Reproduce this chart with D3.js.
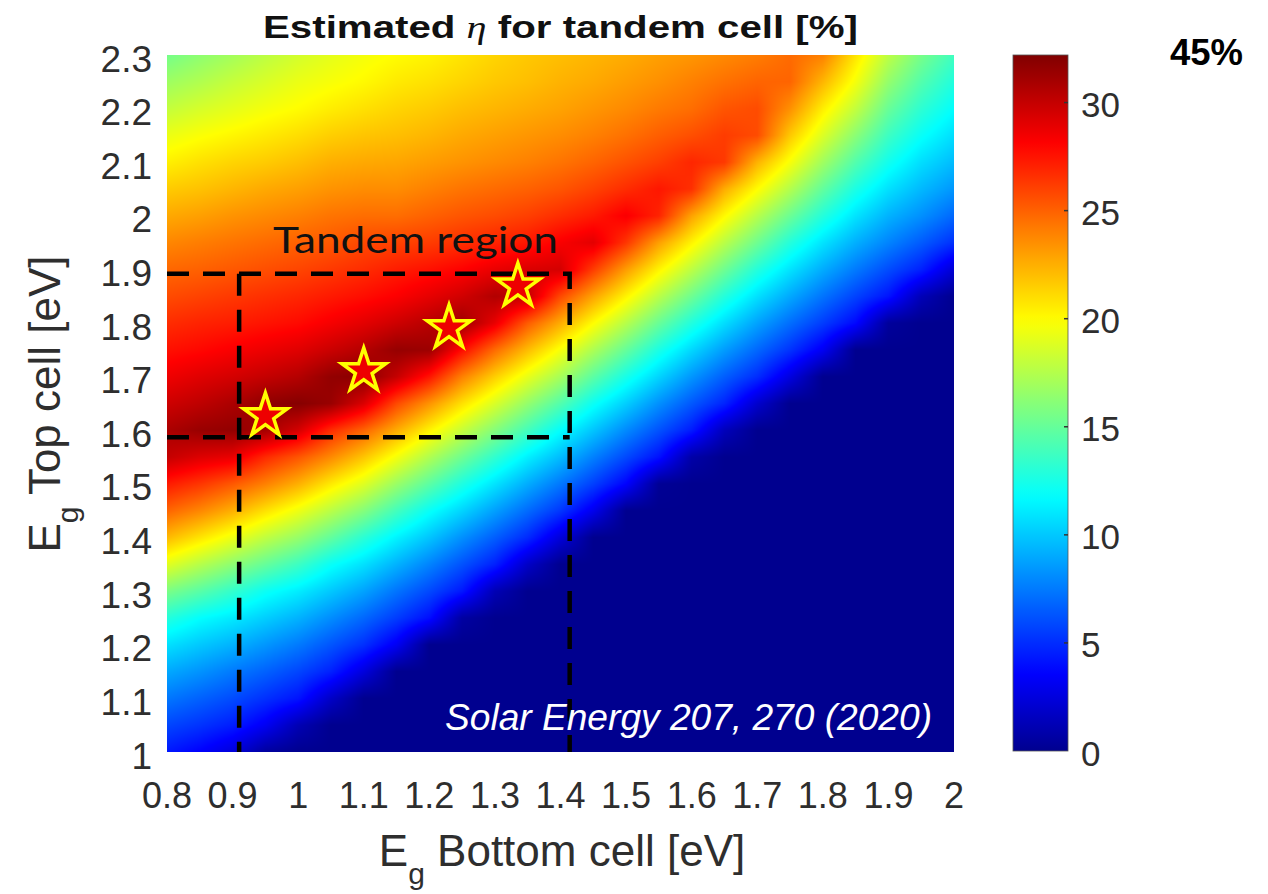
<!DOCTYPE html>
<html><head><meta charset="utf-8">
<script src="https://cdn.jsdelivr.net/npm/d3@7"></script>
<style>
html,body{margin:0;padding:0;background:#fff;}
svg{display:block;}
</style></head>
<body>
<svg id="chart" width="1268" height="894"></svg>
<script>
// Bottom-cell band gap of each map column (eV)
const bottomEg = [0.80, 0.85, 0.90, 0.95, 1.00, 1.05, 1.10, 1.15, 1.20, 1.25, 1.30, 1.35, 1.40,
                  1.45, 1.50, 1.55, 1.60, 1.65, 1.70, 1.75, 1.80, 1.85, 1.90, 1.95, 2.00];
// Top-cell band gap of each map row (eV)
const topEg = [1.00, 1.05, 1.10, 1.15, 1.20, 1.25, 1.30, 1.35, 1.40, 1.45, 1.50, 1.55, 1.60, 1.65,
               1.70, 1.75, 1.80, 1.85, 1.90, 1.95, 2.00, 2.05, 2.10, 2.15, 2.20, 2.25, 2.30];

// Estimated tandem efficiency (%) for each bottom-cell gap, listed for top Eg 1.00 -> 2.30
const eta080 = [4.3, 5.8, 7.4, 9.0, 10.8, 12.9, 15.7, 19.0, 22.2, 24.9, 27.3, 30.0, 30.8, 29.7, 28.6, 27.6, 26.7, 25.7, 24.8, 23.8, 22.7, 21.6, 20.4, 19.3, 18.0, 16.8, 15.5];
const eta085 = [3.5, 5.2, 6.7, 8.3, 10.0, 11.8, 14.6, 17.6, 20.8, 23.8, 26.4, 29.2, 31.4, 30.2, 29.1, 27.9, 27.0, 26.0, 25.0, 24.1, 23.0, 21.9, 20.9, 19.8, 18.6, 17.4, 16.3];
const eta090 = [2.4, 4.5, 6.0, 7.5, 9.3, 11.1, 13.4, 16.3, 19.4, 22.5, 25.3, 28.8, 31.6, 30.8, 29.5, 28.3, 27.2, 26.3, 25.3, 24.4, 23.4, 22.3, 21.3, 20.2, 19.1, 18.1, 17.0];
const eta095 = [0.5, 3.2, 5.1, 6.7, 8.4, 10.2, 12.1, 15.0, 17.9, 20.9, 24.0, 26.8, 31.0, 31.7, 30.0, 28.7, 27.5, 26.6, 25.6, 24.7, 23.7, 22.7, 21.6, 20.6, 19.6, 18.7, 17.8];
const eta100 = [0, 1.2, 4.2, 5.8, 7.5, 9.3, 11.2, 13.7, 16.6, 19.4, 22.5, 25.4, 29.5, 32.0, 30.5, 29.1, 27.8, 26.9, 25.9, 25.0, 24.0, 23.0, 22.0, 21.0, 20.0, 19.3, 18.5];
const eta105 = [0, 0, 1.8, 4.6, 6.3, 8.1, 10.0, 12.0, 14.9, 17.7, 20.6, 23.7, 26.7, 31.4, 31.6, 29.8, 28.4, 27.3, 26.3, 25.3, 24.4, 23.4, 22.5, 21.5, 20.5, 19.7, 19.1];
const eta110 = [0, 0, 0, 2.5, 5.1, 6.9, 8.8, 10.8, 13.1, 16.0, 18.9, 21.8, 24.9, 29.3, 31.9, 30.5, 29.0, 27.7, 26.7, 25.8, 24.6, 23.6, 22.7, 21.8, 20.9, 20.1, 19.6];
const eta115 = [0, 0, 0, 0, 3.2, 5.5, 7.3, 9.3, 11.4, 13.9, 16.7, 19.6, 22.6, 25.8, 30.0, 31.5, 29.7, 28.2, 27.2, 26.0, 24.6, 23.6, 22.8, 22.0, 21.3, 20.6, 20.0];
const eta120 = [0, 0, 0, 0, 0, 4.0, 5.9, 7.8, 9.9, 12.0, 14.7, 17.4, 20.3, 23.4, 27.5, 31.3, 30.4, 28.9, 27.6, 26.2, 25.0, 24.0, 23.1, 22.3, 21.6, 20.9, 20.3];
const eta125 = [0, 0, 0, 0, 0, 0.6, 4.3, 6.2, 8.2, 10.4, 12.7, 15.3, 18.1, 20.9, 24.0, 27.8, 31.2, 29.6, 28.1, 26.6, 25.4, 24.4, 23.4, 22.7, 22.0, 21.3, 20.8];
const eta130 = [0, 0, 0, 0, 0, 0, 1.2, 4.6, 6.6, 8.7, 10.9, 13.3, 16.0, 18.7, 21.5, 24.7, 28.8, 30.6, 28.8, 27.0, 25.7, 24.7, 23.7, 23.0, 22.3, 21.7, 21.3];
const eta135 = [0, 0, 0, 0, 0, 0, 0, 1.8, 4.9, 7.0, 9.1, 11.3, 13.9, 16.5, 19.2, 22.1, 25.2, 30.0, 29.3, 27.4, 26.1, 25.0, 24.0, 23.3, 22.6, 22.0, 21.7];
const eta140 = [0, 0, 0, 0, 0, 0, 0, 0, 2.4, 5.3, 7.4, 9.6, 11.8, 14.4, 17.1, 19.7, 22.6, 25.8, 29.5, 28.3, 26.7, 25.4, 24.4, 23.6, 22.9, 22.4, 22.0];
const eta145 = [0, 0, 0, 0, 0, 0, 0, 0, 0, 3.0, 5.6, 7.7, 9.9, 12.1, 14.7, 17.3, 20.0, 22.9, 26.2, 29.0, 27.3, 26.0, 24.9, 24.0, 23.3, 22.7, 22.3];
const eta150 = [0, 0, 0, 0, 0, 0, 0, 0, 0, 0, 3.6, 5.9, 8.0, 10.2, 12.5, 15.0, 17.6, 20.3, 23.1, 26.4, 28.3, 26.7, 25.5, 24.5, 23.7, 23.1, 22.6];
const eta155 = [0, 0, 0, 0, 0, 0, 0, 0, 0, 0, 0.2, 4.1, 6.2, 8.2, 10.4, 12.6, 15.1, 17.7, 20.3, 23.0, 27.0, 27.4, 26.1, 25.1, 24.2, 23.5, 23.0];
const eta160 = [0, 0, 0, 0, 0, 0, 0, 0, 0, 0, 0, 0.8, 4.4, 6.4, 8.4, 10.5, 12.8, 15.3, 17.8, 20.3, 22.9, 26.6, 26.9, 25.6, 24.6, 24.0, 23.3];
const eta165 = [0, 0, 0, 0, 0, 0, 0, 0, 0, 0, 0, 0, 1.4, 4.7, 6.6, 8.6, 10.7, 12.9, 15.3, 17.7, 20.1, 22.6, 26.3, 26.2, 25.4, 24.5, 23.7];
const eta170 = [0, 0, 0, 0, 0, 0, 0, 0, 0, 0, 0, 0, 0, 2.0, 5.0, 6.9, 8.8, 10.8, 12.9, 15.3, 17.6, 20.0, 22.4, 25.7, 25.7, 24.9, 24.1];
const eta175 = [0, 0, 0, 0, 0, 0, 0, 0, 0, 0, 0, 0, 0, 0, 2.6, 5.2, 7.1, 9.0, 10.9, 12.9, 15.2, 17.5, 19.7, 21.7, 23.5, 24.9, 24.7];
const eta180 = [0, 0, 0, 0, 0, 0, 0, 0, 0, 0, 0, 0, 0, 0, 0, 3.2, 5.5, 7.3, 9.1, 10.9, 12.9, 14.9, 16.9, 18.8, 20.5, 22.3, 24.0];
const eta185 = [0, 0, 0, 0, 0, 0, 0, 0, 0, 0, 0, 0, 0, 0, 0, 0, 3.8, 5.7, 7.5, 9.2, 10.9, 12.6, 14.4, 16.2, 18.0, 19.6, 20.8];
const eta190 = [0, 0, 0, 0, 0, 0, 0, 0, 0, 0, 0, 0, 0, 0, 0, 0, 0.4, 4.2, 6.0, 7.8, 9.3, 10.8, 12.3, 13.7, 15.1, 16.5, 17.8];
const eta195 = [0, 0, 0, 0, 0, 0, 0, 0, 0, 0, 0, 0, 0, 0, 0, 0, 0, 1.3, 4.6, 6.5, 8.2, 9.5, 10.7, 12.0, 13.2, 14.4, 15.6];
const eta200 = [0, 0, 0, 0, 0, 0, 0, 0, 0, 0, 0, 0, 0, 0, 0, 0, 0, 0, 2.2, 5.1, 6.9, 8.4, 9.6, 10.7, 11.8, 12.8, 13.8];
const etaColumns = [eta080, eta085, eta090, eta095, eta100, eta105, eta110, eta115, eta120,
                    eta125, eta130, eta135, eta140, eta145, eta150, eta155, eta160, eta165,
                    eta170, eta175, eta180, eta185, eta190, eta195, eta200];

// Candidate absorber pairs (bottom Eg, top Eg) marked with stars
const starBottomEg = [0.95, 1.10, 1.23, 1.335];
const starTopEg = [1.627, 1.711, 1.791, 1.869];

// Extent of the tandem region box
const boxBottomEg = [0.91, 1.414];
const boxTopEg = [1.587, 1.892];

// Axis tick values
const xTickValues = [0.8, 0.9, 1, 1.1, 1.2, 1.3, 1.4, 1.5, 1.6, 1.7, 1.8, 1.9, 2];
const yTickValues = [1, 1.1, 1.2, 1.3, 1.4, 1.5, 1.6, 1.7, 1.8, 1.9, 2, 2.1, 2.2, 2.3];
const cbTickValues = [0, 5, 10, 15, 20, 25, 30];
const etaMax = 32.2;

// ---------- layout ----------
const plot = {left: 167, right: 954, top: 55, bottom: 752};
const cbar = {left: 1013, right: 1068, top: 55, bottom: 751};
const sans = "'Liberation Sans', Arial, Helvetica, sans-serif";
const textGray = "#2e2e2e";

const svg = d3.select("#chart");
const x = d3.scaleLinear().domain([0.8, 2.0]).range([plot.left, plot.right]);
const y = d3.scaleLinear().domain([1.0, 2.3]).range([plot.bottom, plot.top]);

// MATLAB "jet" colour map as a piecewise-linear scale
const jetT = [0, 7 / 63, 23 / 63, 39 / 63, 55 / 63, 1];
const jetC = ["rgb(0,0,143)", "rgb(0,0,255)", "rgb(0,255,255)", "rgb(255,255,0)", "rgb(255,0,0)", "rgb(128,0,0)"];
const color = d3.scaleLinear()
  .domain(jetT.map(t => t * etaMax))
  .range(jetC)
  .interpolate(d3.interpolateRgb)
  .clamp(true);

// grid index scales (uniform spacing)
const colIndex = d3.scaleLinear().domain(d3.extent(bottomEg)).range([0, bottomEg.length - 1]).clamp(true);
const rowIndex = d3.scaleLinear().domain(d3.extent(topEg)).range([0, topEg.length - 1]).clamp(true);

function etaAt(eb, et) {
  const fi = colIndex(eb), fj = rowIndex(et);
  const i0 = Math.min(Math.floor(fi), bottomEg.length - 2), j0 = Math.min(Math.floor(fj), topEg.length - 2);
  const u = fi - i0, v = fj - j0;
  const a = etaColumns[i0][j0], b = etaColumns[i0 + 1][j0];
  const c = etaColumns[i0][j0 + 1], d = etaColumns[i0 + 1][j0 + 1];
  return (a * (1 - u) + b * u) * (1 - v) + (c * (1 - u) + d * u) * v;
}

// ---------- heat map (interpolated shading) ----------
const pw = plot.right - plot.left, ph = plot.bottom - plot.top;
const canvas = document.createElement("canvas");
canvas.width = pw; canvas.height = ph;
const ctx = canvas.getContext("2d");
const img = ctx.createImageData(pw, ph);
for (let j = 0; j < ph; j++) {
  const et = y.invert(plot.top + j + 0.5);
  for (let i = 0; i < pw; i++) {
    const eb = x.invert(plot.left + i + 0.5);
    const c = d3.rgb(color(etaAt(eb, et)));
    const k = (j * pw + i) * 4;
    img.data[k] = c.r; img.data[k + 1] = c.g; img.data[k + 2] = c.b; img.data[k + 3] = 255;
  }
}
ctx.putImageData(img, 0, 0);
svg.append("image")
  .attr("x", plot.left).attr("y", plot.top)
  .attr("width", pw).attr("height", ph)
  .attr("preserveAspectRatio", "none")
  .attr("href", canvas.toDataURL());

// ---------- tandem region box ----------
const dash = {stroke: "#000", "stroke-width": 4.5, "stroke-dasharray": "22,14", fill: "none"};
function dashed(sel) { Object.entries(dash).forEach(([k, v]) => sel.attr(k, v)); return sel; }
dashed(svg.append("path").attr("d",
  `M${x(0.8)},${y(boxTopEg[1])}H${x(boxBottomEg[1])}V${y(1.0)}`));
dashed(svg.append("path").attr("d",
  `M${x(0.8)},${y(boxTopEg[0])}H${x(boxBottomEg[1])}`));
dashed(svg.append("path").attr("d",
  `M${x(boxBottomEg[0])},${y(boxTopEg[1])}V${y(1.0)}`));

svg.append("text")
  .attr("x", 273).attr("y", 253)
  .attr("font-family", "Lato, 'Open Sans', sans-serif")
  .attr("font-size", 37)
  .attr("textLength", 285).attr("lengthAdjust", "spacingAndGlyphs")
  .attr("fill", "#111")
  .text("Tandem region");

// ---------- stars ----------
const starR = 23, starr = 23 * 0.382;
const starPts = d3.range(10).map(k => [k * Math.PI / 5, k % 2 ? starr : starR]);
const starPath = d3.lineRadial().curve(d3.curveLinearClosed)(starPts);
svg.append("g").selectAll("path")
  .data(d3.zip(starBottomEg, starTopEg))
  .join("path")
  .attr("transform", d => `translate(${x(d[0])},${y(d[1])})`)
  .attr("d", starPath)
  .attr("fill", "#ee0000")
  .attr("stroke", "#ffff00")
  .attr("stroke-width", 3.5)
  .attr("stroke-linejoin", "miter");

// ---------- citation ----------
svg.append("text")
  .attr("x", 445).attr("y", 730)
  .attr("font-family", sans).attr("font-style", "italic")
  .attr("font-size", 36)
  .attr("textLength", 487).attr("lengthAdjust", "spacingAndGlyphs")
  .attr("fill", "#fff")
  .text("Solar Energy 207, 270 (2020)");

// ---------- axes ----------
svg.append("g").selectAll("text")
  .data(xTickValues).join("text")
  .attr("x", d => x(d)).attr("y", 808)
  .attr("text-anchor", "middle")
  .attr("font-family", sans).attr("font-size", 36).attr("fill", textGray)
  .text(d => String(d));

svg.append("g").selectAll("text")
  .data(yTickValues).join("text")
  .attr("x", 152).attr("y", d => y(d) + 4)
  .attr("text-anchor", "end").attr("dominant-baseline", "central")
  .attr("font-family", sans).attr("font-size", 37).attr("fill", textGray)
  .text(d => String(d));

const xl = svg.append("text")
  .attr("x", 562).attr("y", 866).attr("text-anchor", "middle")
  .attr("font-family", sans).attr("font-size", 44).attr("fill", textGray);
xl.append("tspan").text("E");
xl.append("tspan").attr("font-size", 30).attr("dy", 18).text("g");
xl.append("tspan").attr("dy", -18).text(" Bottom cell [eV]");

const yl = svg.append("text")
  .attr("transform", "translate(60,404) rotate(-90)")
  .attr("text-anchor", "middle")
  .attr("font-family", sans).attr("font-size", 44).attr("fill", textGray);
yl.append("tspan").text("E");
yl.append("tspan").attr("font-size", 30).attr("dy", 18).text("g");
yl.append("tspan").attr("dy", -18).text(" Top cell [eV]");

// ---------- title ----------
const title = svg.append("text")
  .attr("x", 263).attr("y", 38)
  .attr("font-family", sans).attr("font-weight", "bold").attr("font-size", 32)
  .attr("textLength", 595).attr("lengthAdjust", "spacingAndGlyphs")
  .attr("fill", "#111");
title.append("tspan").text("Estimated ");
title.append("tspan").attr("font-family", "'Liberation Serif', 'DejaVu Serif', serif")
  .attr("font-style", "italic").attr("font-weight", "normal").text("η");
title.append("tspan").text(" for tandem cell [%]");

// ---------- colour bar ----------
const cy = d3.scaleLinear().domain([0, etaMax]).range([cbar.bottom, cbar.top]);
const grad = svg.append("defs").append("linearGradient")
  .attr("id", "cbGrad").attr("x1", 0).attr("y1", 1).attr("x2", 0).attr("y2", 0);
grad.selectAll("stop").data(d3.range(0, 1.0001, 1 / 64)).join("stop")
  .attr("offset", d => d)
  .attr("stop-color", d => color(d * etaMax));
svg.append("rect")
  .attr("x", cbar.left).attr("y", cbar.top)
  .attr("width", cbar.right - cbar.left).attr("height", cbar.bottom - cbar.top)
  .attr("fill", "url(#cbGrad)")
  .attr("stroke", "#555").attr("stroke-width", 0.8);
svg.append("g").selectAll("line")
  .data(cbTickValues.filter(d => d > 0)).join("line")
  .attr("x1", cbar.right - 4).attr("x2", cbar.right)
  .attr("y1", d => cy(d)).attr("y2", d => cy(d))
  .attr("stroke", "#333").attr("stroke-width", 1.5);
svg.append("g").selectAll("text")
  .data(cbTickValues).join("text")
  .attr("x", 1081).attr("y", d => cy(d) + 2)
  .attr("dominant-baseline", "central")
  .attr("font-family", sans).attr("font-size", 35).attr("fill", textGray)
  .text(d => String(d));

svg.append("text")
  .attr("x", 1170).attr("y", 65)
  .attr("font-family", sans).attr("font-weight", "bold").attr("font-size", 36)
  .attr("textLength", 73).attr("lengthAdjust", "spacingAndGlyphs")
  .attr("fill", "#000")
  .text("45%");
</script>
</body></html>
